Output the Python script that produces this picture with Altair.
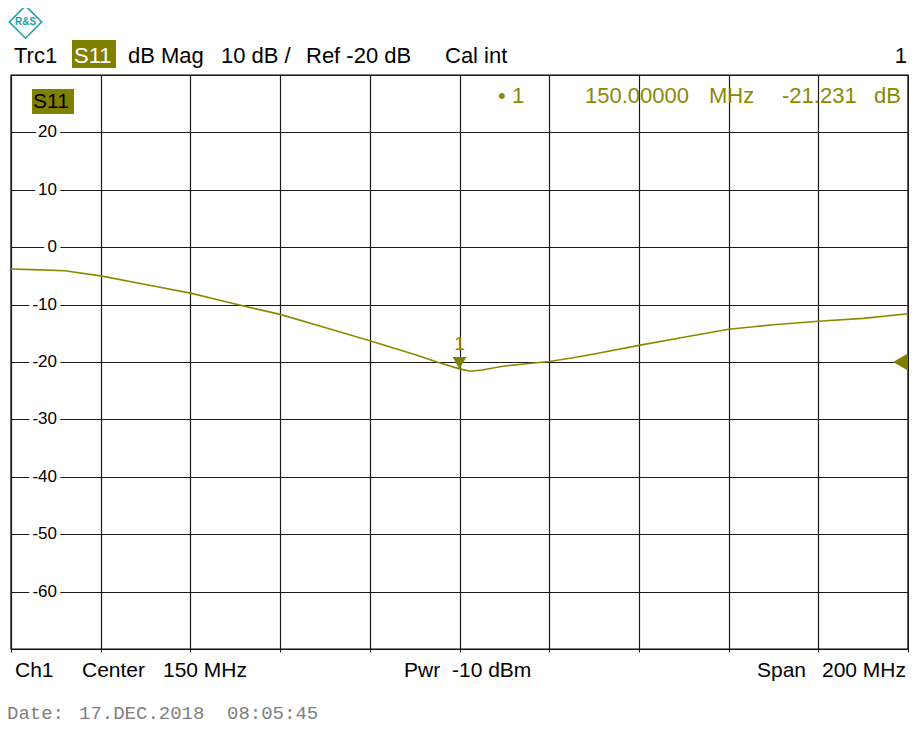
import altair as alt
import pandas as pd

# ---------------- data ----------------
freq_mhz = [50, 55, 62, 70, 80, 90, 100, 110, 120, 130, 140, 145, 150, 152.5,
            155, 160, 165, 170, 175, 180, 190, 200, 205, 210, 215, 220, 230, 240, 250]
s11_db = [-3.8, -3.9, -4.1, -5.0, -6.5, -8.0, -9.9, -11.7, -14.0, -16.3, -18.7, -20.0, -21.2, -21.6,
          -21.4, -20.7, -20.3, -19.9, -19.3, -18.6, -17.1, -15.7, -15.0, -14.3, -13.9, -13.5, -12.9, -12.4, -11.6]

grid_freqs = [50, 70, 90, 110, 130, 150, 170, 190, 210, 230, 250]
grid_db = [30, 20, 10, 0, -10, -20, -30, -40, -50, -60, -70]
y_label_values = [20, 10, 0, -10, -20, -30, -40, -50, -60]
y_label_texts = ["20", "10", "0", "-10", "-20", "-30", "-40", "-50", "-60"]

marker_freq = [150.0]
marker_db = [-21.231]
ref_level_db = [-20]

header_texts = ["Trc1", "S11", "dB Mag", "10 dB /", "Ref -20 dB", "Cal int", "1"]
marker_texts = ["\u2022", "1", "150.00000", "MHz", "-21.231", "dB", "1"]
footer_texts = ["Ch1", "Center", "150 MHz", "Pwr", "-10 dBm", "Span", "200 MHz"]
date_texts = ["Date:", "17.DEC.2018", "08:05:45"]
logo_text = "R&S"

# ---------------- styles / layout ----------------
SANS = "Liberation Sans"
MONO = "Liberation Mono"
OLIVE = "#808000"
TRACE = "#8a8a00"
GRID = "#1a1a1a"
PAD_L, PAD_T, PAD_R, PAD_B = 3, 67, 1, 75
W, H = 897, 574
OX, OY = 8 + PAD_L, 8 + PAD_T   # page position of the plot origin


def px(page_x):
    return page_x - OX


def py(page_y):
    return page_y - OY


x_enc = alt.X("freq:Q",
              scale=alt.Scale(domain=[50, 250], nice=False, zero=False),
              axis=alt.Axis(values=grid_freqs, grid=True, labels=False, ticks=True,
                            tickSize=3, tickColor=GRID, domain=False, title=None,
                            gridColor=GRID, gridWidth=1.2, gridOpacity=1))
y_enc = alt.Y("db:Q",
              scale=alt.Scale(domain=[-70, 30], nice=False, zero=False),
              axis=alt.Axis(values=grid_db, grid=True, labels=False, ticks=False,
                            domain=False, title=None, gridColor=GRID, gridWidth=1.2,
                            gridOpacity=1))

trace_df = pd.DataFrame({"freq": freq_mhz, "db": s11_db})
ylab_df = pd.DataFrame({"db": y_label_values, "label": y_label_texts})
marker_df = pd.DataFrame({"freq": marker_freq, "db": marker_db})
ref_df = pd.DataFrame({"db": ref_level_db})

one = alt.Data(values=[{}])


def label(text, page_x, page_y, size=22, color="#000000", align="left", font=SANS):
    return alt.Chart(one).mark_text(align=align, baseline="alphabetic", fontSize=size,
                                    font=font, color=color).encode(
        x=alt.value(px(page_x)), y=alt.value(py(page_y)), text=alt.value(text))


def box(x1, x2, y1, y2, color):
    return alt.Chart(one).mark_rect(color=color, opacity=1).encode(
        x=alt.value(px(x1)), x2=alt.value(px(x2)), y=alt.value(py(y1)), y2=alt.value(py(y2)))


trace = alt.Chart(trace_df).mark_line(color=TRACE, strokeWidth=1.6).encode(x=x_enc, y=y_enc)

ylab_halo = alt.Chart(ylab_df).mark_text(align="right", baseline="middle", fontSize=17, font=SANS,
                                         color="white", stroke="white", strokeWidth=8).encode(
    x=alt.value(px(57)), y=y_enc, text="label:N")
ylab = alt.Chart(ylab_df).mark_text(align="right", baseline="middle", fontSize=17, font=SANS,
                                    color="#000000").encode(
    x=alt.value(px(57)), y=y_enc, text="label:N")

marker_tri = alt.Chart(marker_df).mark_point(shape="triangle-down", filled=True, size=190,
                                             yOffset=-6, color=OLIVE, opacity=1).encode(x=x_enc, y=y_enc)
marker_num = alt.Chart(marker_df).mark_text(fontSize=19, font=SANS, color=TRACE, dy=-19,
                                            baseline="alphabetic", align="center").encode(
    x=x_enc, y=y_enc, text=alt.value(marker_texts[6]))

ref_tri = alt.Chart(ref_df).mark_point(shape="triangle-left", filled=True, size=290,
                                       color=OLIVE, opacity=1).encode(x=alt.value(W - 7.5), y=y_enc)

logo = alt.Chart(one).mark_point(shape="diamond", filled=False, size=1050, color="#1e9fa3",
                                 strokeWidth=1.6, opacity=1).encode(x=alt.value(px(25.5)), y=alt.value(py(22)))
logo_t = alt.Chart(one).mark_text(fontSize=10, font=SANS, color="#1e9fa3", fontWeight="bold",
                                  align="center", baseline="middle").encode(
    x=alt.value(px(25.5)), y=alt.value(py(22)), text=alt.value(logo_text))

layers = [
    trace, ylab_halo, ylab, marker_tri, marker_num, ref_tri, logo, logo_t,
    # header
    label(header_texts[0], 14, 63),
    box(72, 116, 40, 68, OLIVE),
    label(header_texts[1], 74, 63, color="white"),
    label(header_texts[2], 128, 63),
    label(header_texts[3], 221, 63),
    label(header_texts[4], 306, 63),
    label(header_texts[5], 445, 63),
    label(header_texts[6], 907, 63, align="right"),
    # trace tag in plot
    box(32, 74, 89, 114, OLIVE),
    label(header_texts[1], 33, 108, size=21),
    # marker readout
    label(marker_texts[0], 498, 103, color=TRACE),
    label(marker_texts[1], 512, 103, color=TRACE),
    label(marker_texts[2], 585, 103, color=TRACE),
    label(marker_texts[3], 709, 103, color=TRACE),
    label(marker_texts[4], 782, 103, color=TRACE),
    label(marker_texts[5], 874, 103, color=TRACE),
    # footer
    label(footer_texts[0], 15, 677, size=21),
    label(footer_texts[1], 82, 677, size=21),
    label(footer_texts[2], 163, 677, size=21),
    label(footer_texts[3], 404, 677, size=21),
    label(footer_texts[4], 452, 677, size=21),
    label(footer_texts[5], 757, 677, size=21),
    label(footer_texts[6], 822, 677, size=21),
    # date stamp
    label(date_texts[0], 7, 719, size=19, color="#808080", font=MONO),
    label(date_texts[1], 79, 719, size=19, color="#808080", font=MONO),
    label(date_texts[2], 227, 719, size=19, color="#808080", font=MONO),
]

chart = alt.layer(*layers).properties(
    width=W, height=H,
    autosize="none",
    padding={"left": PAD_L, "top": PAD_T, "right": PAD_R, "bottom": PAD_B},
    background="white",
).configure_view(stroke="#000000", strokeWidth=1.4)

chart.save("out.html", embed_options={"renderer": "svg", "actions": False})
